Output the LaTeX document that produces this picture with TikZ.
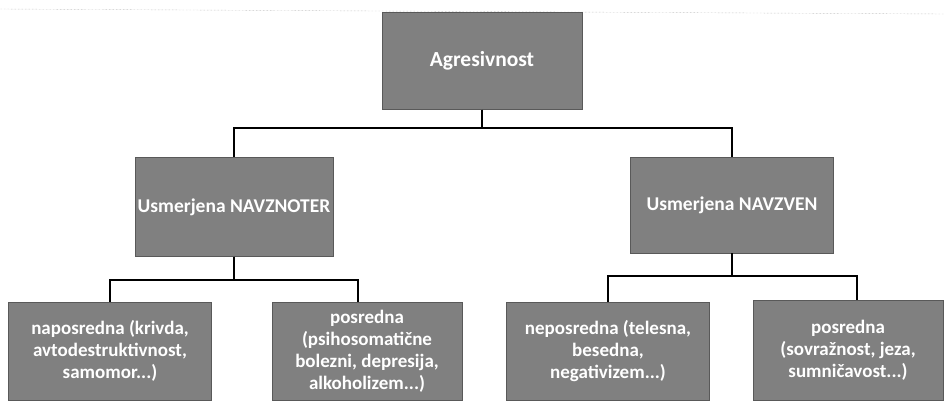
\documentclass[tikz,border=0pt]{standalone}
\usepackage{fontspec}
\setmainfont{Carlito}
\usetikzlibrary{positioning}

\begin{document}
\begin{tikzpicture}[x=1pt, y=-1pt,
  default/.style={draw=black!65, fill=black!50, text=white, font=\bfseries\fontsize{19}{22}\selectfont, align=center, inner sep=0pt},
  link/.style={draw=black, line width=2pt}]
\useasboundingbox (0,0) rectangle (944,402);
\draw[black!35, densely dotted] (0,9) -- (944,14);
\node[default, minimum width=200, minimum height=97, font=\bfseries\fontsize{21.5}{24}\selectfont] (A) at (482, 61) {Agresivnost};
\node[default, minimum width=198, minimum height=99, font=\bfseries\fontsize{19.5}{22}\selectfont] (B) at (234, 207) {Usmerjena NAVZNOTER};
\node[default, minimum width=203, minimum height=96, font=\bfseries\fontsize{19.5}{22}\selectfont] (C) at (732, 205) {Usmerjena NAVZVEN};
\node[default, minimum width=203, minimum height=98] (D) at (110, 351) {naposredna (krivda,\\avtodestruktivnost,\\samomor...)};
\node[default, minimum width=190, minimum height=98] (E) at (367, 351) {posredna\\(psihosomatične\\bolezni, depresija,\\alkoholizem...)};
\node[default, minimum width=203, minimum height=98] (F) at (608, 351) {neposredna (telesna,\\besedna,\\negativizem...)};
\node[default, minimum width=190, minimum height=100] (G) at (848, 350) {posredna\\(sovražnost, jeza,\\sumničavost...)};
\draw [link] (A.south) -- (A.south |- 0,128) -| (B.north);
\draw [link] (A.south) -- (A.south |- 0,128) -| (C.north);
\draw [link] (B.south) -- (B.south |- 0,280) -| (D.north);
\draw [link] (B.south) -- (B.south |- 0,280) -| ([xshift=-9pt]E.north);
\draw [link] (C.south) -- (C.south |- 0,276) -| (F.north);
\draw [link] (C.south) -- (C.south |- 0,276) -| ([xshift=9pt]G.north);
\end{tikzpicture}
\end{document}
